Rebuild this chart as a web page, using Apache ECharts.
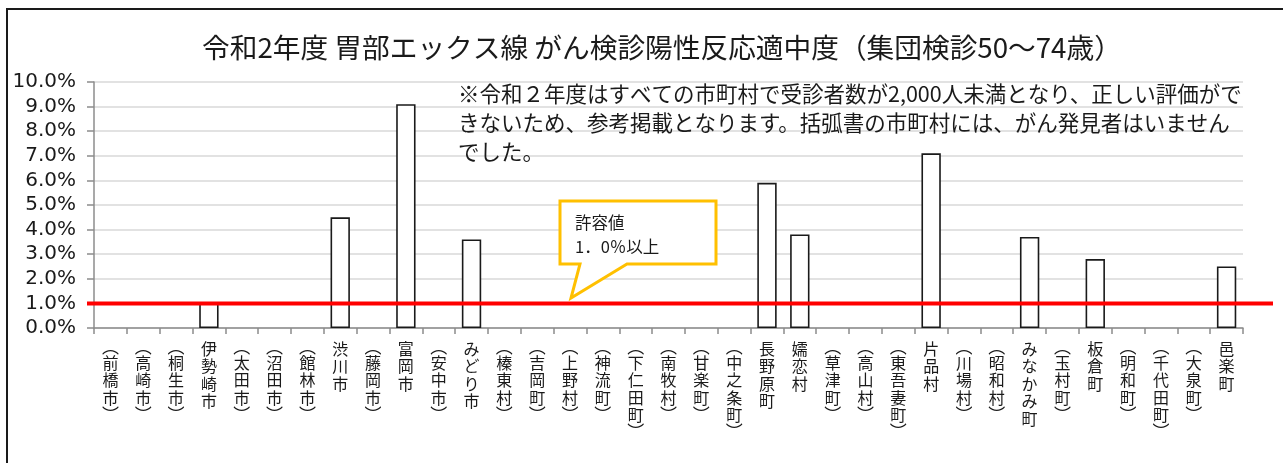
<!DOCTYPE html>
<html><head><meta charset="utf-8">
<script src="https://cdn.jsdelivr.net/npm/echarts@6/dist/echarts.min.js"></script>
<style>html,body{margin:0;padding:0;background:#fff}#c{width:1283px;height:463px}</style>
</head><body><div id="c"></div>
<script>
const categories = ['（前橋市）','（高崎市）','（桐生市）','伊勢崎市','（太田市）','（沼田市）','（館林市）','渋川市','（藤岡市）','富岡市','（安中市）','みどり市','（榛東村）','（吉岡町）','（上野村）','（神流町）','（下仁田町）','（南牧村）','（甘楽町）','（中之条町）','長野原町','嬬恋村','（草津町）','（高山村）','（東吾妻町）','片品村','（川場村）','（昭和村）','みなかみ町','（玉村町）','板倉町','（明和町）','（千代田町）','（大泉町）','邑楽町'];
const values = [0,0,0,1.0,0,0,0,4.5,0,9.1,0,3.6,0,0,0,0,0,0,0,0,5.9,3.8,0,0,0,7.1,0,0,3.7,0,2.8,0,0,0,2.5];
const threshold = 1.0;
const yTicks = [0,1,2,3,4,5,6,7,8,9,10];
const titleText = '令和2年度 胃部エックス線 がん検診陽性反応適中度（集団検診50～74歳）';
const noteLines = ['※令和２年度はすべての市町村で受診者数が2,000人未満となり、正しい評価がで','きないため、参考掲載となります。括弧書の市町村には、がん発見者はいません','でした。'];
const calloutLines = ['許容値','1．0％以上'];

const FONT = '"Noto Sans CJK JP", "Noto Sans", sans-serif';
const TXT = '#1a1a1a';
const chart = echarts.init(document.getElementById('c'));

function vert(name){
  const out = [];
  for (const ch of name){
    if (ch === '（') out.push('{po|︵}');
    else if (ch === '）') out.push('{pc|︶}');
    else out.push('{c|' + ch + '}');
  }
  return out.join('\n');
}

const barData = values.map(v => v === 0 ? { value: v, itemStyle: { borderWidth: 0 } } : v);

const option = {
  animation: false,
  backgroundColor: '#fff',
  title: {
    text: titleText, left: 197, top: 29,
    textStyle: { fontFamily: FONT, fontSize: 27.7, fontWeight: 'normal', color: TXT }
  },
  grid: { left: 94, right: 40, top: 82, bottom: 135 },
  xAxis: {
    type: 'category', data: categories,
    axisLine: { lineStyle: { color: '#8c8c8c', width: 1.5 } },
    axisTick: { show: true, length: 6, lineStyle: { color: '#8c8c8c', width: 1.5 } },
    axisLabel: {
      interval: 0, margin: 12, formatter: vert,
      rich: {
        c: { fontFamily: FONT, fontSize: 16, lineHeight: 17.5, color: TXT },
        po: { fontFamily: FONT, fontSize: 17, lineHeight: 14, color: TXT },
        pc: { fontFamily: FONT, fontSize: 17, lineHeight: 16, color: TXT }
      }
    }
  },
  yAxis: {
    type: 'value', min: 0, max: 10, interval: 1,
    axisLine: { show: true, lineStyle: { color: '#8c8c8c', width: 1.5 } },
    axisTick: { show: true, length: 7, lineStyle: { color: '#8c8c8c', width: 1.5 } },
    splitLine: { lineStyle: { color: '#d9d9d9', width: 1.5 } },
    axisLabel: {
      margin: 18, fontFamily: '"DejaVu Sans", sans-serif', fontSize: 20, color: TXT,
      formatter: v => v.toFixed(1) + '%'
    }
  },
  series: [{
    type: 'bar', data: barData, barWidth: '59%',
    itemStyle: { color: '#fff', borderColor: '#1a1a1a', borderWidth: 1.6 }
  }]
};
chart.setOption(option);

const yLine = chart.convertToPixel({ yAxisIndex: 0 }, threshold);
chart.setOption({
  graphic: [
    { type: 'rect', shape: { x: 7, y: 9, width: 1300, height: 480 }, style: { fill: 'none', stroke: '#1a1a1a', lineWidth: 2 }, z: 100 },
    { type: 'text', left: 458, top: 79, style: { text: noteLines.join('\n'), font: '21.5px ' + FONT, lineHeight: 29, fill: TXT }, z: 50 },
    { type: 'line', shape: { x1: 87, y1: yLine, x2: 1273, y2: yLine }, style: { stroke: '#ff0000', lineWidth: 4 }, z: 60 },
    { type: 'polygon', shape: { points: [[560,201],[716,201],[716,264],[627,264],[571,298],[580,264],[560,264]] }, style: { fill: '#fff', stroke: '#ffc000', lineWidth: 3 }, z: 70 },
    { type: 'text', left: 575, top: 211, style: { text: calloutLines.join('\n'), font: '16.5px ' + FONT, lineHeight: 24, fill: TXT }, z: 71 }
  ]
});
</script>
</body></html>
